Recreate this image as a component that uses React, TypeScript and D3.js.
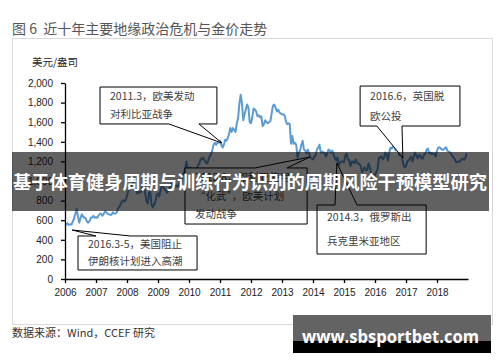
import { useEffect, useRef } from "react";
import * as d3 from "d3";

const WIDTH = 500;
const HEIGHT = 362;
const START_YEAR = 2006;

const xTicks = [2006, 2007, 2008, 2009, 2010, 2011, 2012, 2013, 2014, 2015, 2016, 2017, 2018];
const yTicks = [0, 200, 400, 600, 800, 1000, 1200, 1400, 1600, 1800, 2000];

// gold price, USD/oz, two readings per month (1st, 15th)
const gold2006 = [548, 555, 568, 552, 558, 556, 585, 615, 665, 714, 640, 575, 620, 660, 640, 625, 620, 585, 575, 590, 625, 628, 645, 625];
const gold2007 = [630, 625, 650, 665, 665, 645, 665, 690, 680, 665, 660, 655, 655, 680, 670, 665, 680, 715, 735, 760, 790, 805, 790, 805];
const gold2008 = [850, 900, 910, 935, 975, 1000, 920, 920, 870, 895, 880, 890, 940, 960, 880, 800, 770, 880, 890, 760, 730, 760, 790, 860];
const gold2009 = [875, 840, 910, 960, 940, 920, 905, 880, 900, 935, 975, 935, 925, 940, 955, 945, 955, 1005, 1000, 1050, 1085, 1125, 1200, 1130];
const gold2010 = [1100, 1140, 1080, 1110, 1130, 1110, 1120, 1160, 1180, 1230, 1220, 1240, 1210, 1190, 1180, 1215, 1250, 1270, 1310, 1370, 1390, 1370, 1390, 1390];
const gold2011 = [1410, 1370, 1340, 1370, 1420, 1410, 1440, 1480, 1540, 1500, 1540, 1520, 1500, 1590, 1640, 1790, 1880, 1790, 1620, 1680, 1730, 1780, 1750, 1600];
const gold2012 = [1590, 1650, 1740, 1730, 1710, 1660, 1670, 1650, 1660, 1560, 1580, 1620, 1600, 1590, 1600, 1610, 1690, 1770, 1780, 1750, 1710, 1730, 1700, 1690];
const gold2013 = [1680, 1680, 1670, 1610, 1580, 1590, 1580, 1380, 1460, 1380, 1390, 1370, 1240, 1290, 1310, 1370, 1410, 1320, 1310, 1280, 1320, 1280, 1240, 1230];
const gold2014 = [1220, 1250, 1255, 1320, 1340, 1370, 1290, 1300, 1290, 1290, 1250, 1280, 1320, 1310, 1290, 1310, 1270, 1230, 1210, 1240, 1160, 1190, 1200, 1200];
const gold2015 = [1190, 1260, 1280, 1220, 1210, 1150, 1200, 1200, 1180, 1220, 1190, 1180, 1170, 1150, 1090, 1110, 1140, 1110, 1115, 1180, 1140, 1080, 1060, 1070];
const gold2016 = [1060, 1090, 1120, 1240, 1240, 1250, 1220, 1240, 1290, 1270, 1210, 1290, 1340, 1330, 1360, 1340, 1310, 1320, 1310, 1260, 1290, 1230, 1170, 1140];
const gold2017 = [1150, 1200, 1210, 1230, 1250, 1200, 1250, 1290, 1260, 1230, 1265, 1260, 1230, 1230, 1270, 1280, 1320, 1330, 1280, 1290, 1275, 1280, 1275, 1250];
const gold2018 = [1310, 1340, 1345, 1330, 1320, 1320, 1330, 1345, 1310, 1300, 1295, 1280, 1250, 1240, 1215, 1190, 1195, 1200, 1200, 1225, 1230, 1215, 1235, 1285];
const goldByYear = [gold2006, gold2007, gold2008, gold2009, gold2010, gold2011, gold2012, gold2013, gold2014, gold2015, gold2016, gold2017, gold2018];

interface Point {
    t: number;
    v: number;
}
const goldData: Point[] = goldByYear.flatMap((vals, yi) =>
    vals.map((v, k) => ({ t: START_YEAR + yi + k / 24, v }))
);

// callouts, all in data units: box = [year0, year1, valueTop, valueBottom]
interface Callout {
    lines: string[];
    box: number[];
    edge: "top" | "bottom";
    base: number[];
    tip: number[];
}
const callouts: Callout[] = [
    { lines: ["2011.3，欧美发动", "对利比亚战争"], box: [2007.13, 2010.9, 1959, 1582], edge: "bottom", base: [2009.35, 2010.32], tip: [2011.06, 1388] },
    { lines: ["2016.6，英国脱", "欧公投"], box: [2015.52, 2018.74, 1969, 1561], edge: "bottom", base: [2016.06, 2016.87], tip: [2016.9, 1235] },
    { lines: ["2013.8，叙利亚使用", "“化武”，欧美计划", "发动战争"], box: [2009.87, 2013.81, 1133, 561], edge: "top", base: [2012.13, 2013.16], tip: [2013.9, 1245] },
    { lines: ["2014.3，俄罗斯出", "兵克里米亚地区"], box: [2014.13, 2017.65, 755, 255], edge: "top", base: [2014.71, 2015.42], tip: [2014.77, 1184] },
    { lines: ["2016.3-5，美国阻止", "伊朗核计划进入高潮"], box: [2006.42, 2010.26, 439, 92], edge: "top", base: [2007.0, 2008.1], tip: [2006.23, 500] },
];

const CJK = "'Noto Sans CJK SC', 'Noto Sans', sans-serif";

function App() {
    const axesRef = useRef<SVGGElement>(null);

    const xScale = d3.scaleLinear().domain([2006, 2019]).range([65, 468]);
    const yScale = d3.scaleLinear().domain([0, 2000]).range([279, 83]);

    useEffect(() => {
        const g = d3.select(axesRef.current);
        g.selectAll("*").remove();
        g.append("g")
            .attr("transform", `translate(0,${yScale(0)})`)
            .call(
                d3.axisBottom(xScale)
                    .tickValues(xTicks)
                    .tickFormat((d) => String(d))
                    .tickSize(4)
                    .tickSizeOuter(0)
                    .tickPadding(6)
            );
        g.append("g")
            .attr("transform", `translate(${xScale(2006)},0)`)
            .call(
                d3.axisLeft(yScale)
                    .tickValues(yTicks)
                    .tickFormat(d3.format(",") as any)
                    .tickSize(4)
                    .tickSizeOuter(0)
                    .tickPadding(8)
            );
        g.selectAll("text")
            .attr("font-family", "'Liberation Sans', Arial, sans-serif")
            .attr("font-size", 10)
            .attr("fill", "#222");
        g.selectAll("path, line").attr("stroke", "#000").attr("stroke-width", 1.3);
    }, []);

    const linePath = d3
        .line<Point>()
        .x((d) => xScale(d.t))
        .y((d) => yScale(d.v))(goldData);

    const calloutPath = (c: Callout) => {
        const x0 = xScale(c.box[0]);
        const x1 = xScale(c.box[1]);
        const y0 = yScale(c.box[2]);
        const y1 = yScale(c.box[3]);
        const b0 = xScale(c.base[0]);
        const b1 = xScale(c.base[1]);
        const tx = xScale(c.tip[0]);
        const ty = yScale(c.tip[1]);
        if (c.edge === "bottom")
            return `M${x0},${y0}H${x1}V${y1}H${b1}L${tx},${ty}L${b0},${y1}H${x0}Z`;
        return `M${x0},${y0}H${b0}L${tx},${ty}L${b1},${y0}H${x1}V${y1}H${x0}Z`;
    };

    return (
        <svg
            width={WIDTH}
            height={HEIGHT}
            style={{ position: "absolute", left: 0, top: 0, background: "#fff" }}
        >
            <text x={12} y={34} fontFamily={CJK} fontSize={14} fill="#555">
                {"图\u00a06\u00a0\u00a0近十年主要地缘政治危机与金价走势"}
            </text>
            <rect x={12.5} y={38.5} width={480} height={286} fill="none" stroke="#d9d9d9" />
            <text x={32} y={66} fontFamily={CJK} fontSize={10.5} fill="#222">
                美元/盎司
            </text>

            <path d={linePath as string} fill="none" stroke="#5b9bd5" strokeWidth={2} strokeLinejoin="round" />
            <g ref={axesRef} />

            {callouts.map((c, i) => {
                const x0 = xScale(c.box[0]);
                const y0 = yScale(c.box[2]);
                const h = yScale(c.box[3]) - y0;
                return (
                    <g key={i}>
                        <path d={calloutPath(c)} fill="#fff" stroke="#000" strokeWidth={1} />
                        {c.lines.map((line, j) => (
                            <text
                                key={j}
                                x={x0 + 10}
                                y={y0 + (h * (j + 0.5)) / c.lines.length}
                                dy="0.35em"
                                fontFamily={CJK}
                                fontSize={10.5}
                                fill="#404040"
                            >
                                {line}
                            </text>
                        ))}
                    </g>
                );
            })}

            <rect x={12} y={152} width={477} height={59} fill="rgba(0,0,0,0.62)" />
            <text
                x={13}
                y={189}
                textLength={474}
                lengthAdjust="spacingAndGlyphs"
                fontFamily={CJK}
                fontWeight="bold"
                fontSize={18}
                fill="#fff"
            >
                基于体育健身周期与训练行为识别的周期风险干预模型研究
            </text>

            <text x={12} y={337} fontFamily={CJK} fontSize={11} fill="#333">
                数据来源：Wind，CCEF 研究
            </text>

            <rect x={293} y={315} width={198} height={26} fill="#636363" />
            <rect x={293} y={341} width={198} height={12} fill="#000" />
            <text
                x={302}
                y={343}
                textLength={177}
                lengthAdjust="spacingAndGlyphs"
                fontFamily="'Open Sans', 'DejaVu Sans', sans-serif"
                fontWeight="bold"
                fontSize={17}
                fill="#fff"
            >
                www.sbsportbet.com
            </text>
        </svg>
    );
}

export default App;
